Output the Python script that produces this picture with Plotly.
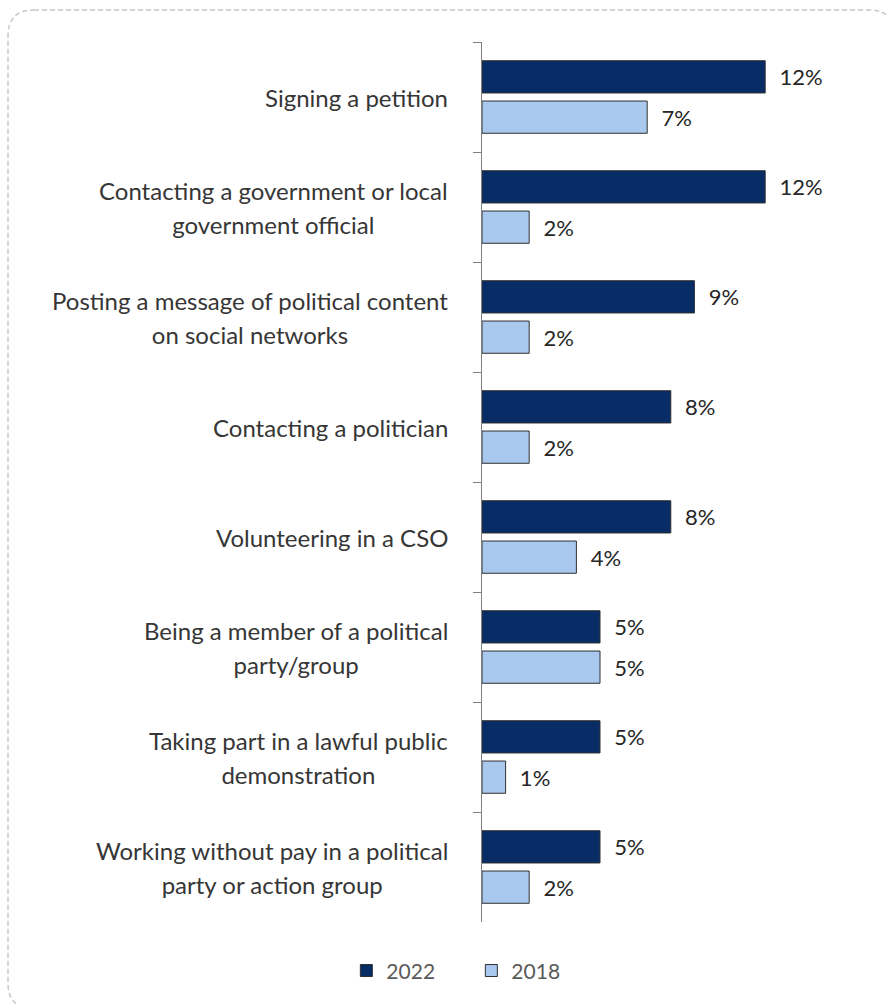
import plotly.graph_objects as go

# Forms of political participation, share of respondents (%)
categories = [
    "Signing a petition",
    "Contacting a government or local<br>government official",
    "Posting a message of political content<br>on social networks",
    "Contacting a politician",
    "Volunteering in a CSO",
    "Being a member of a political<br>party/group",
    "Taking part in a lawful public<br>demonstration",
    "Working without pay in a political<br>party or action group",
]
values_2022 = [12, 12, 9, 8, 8, 5, 5, 5]
values_2018 = [7, 2, 2, 2, 4, 5, 1, 2]
series_names = ["2022", "2018"]

FONT = "Lato"
W, H = 886, 1004
M_L, M_R, M_T, M_B = 482, 50, 42, 82
PLOT_W = W - M_L - M_R
PLOT_H = H - M_T - M_B

fig = go.Figure()
for name, vals, color in [
    (series_names[0], values_2022, "#072c66"),
    (series_names[1], values_2018, "#a9c8ed"),
]:
    fig.add_trace(go.Bar(
        y=categories,
        x=vals,
        name=name,
        orientation="h",
        marker=dict(color=color, line=dict(color="#303030", width=1)),
        texttemplate="\u00a0\u00a0%{x}%",
        textposition="outside",
        textfont=dict(family=FONT, size=22, color="#262626"),
        cliponaxis=False,
    ))

# Category labels: centred multi-line blocks, right edge near the axis
for cat in categories:
    lines = cat.split("<br>")
    txt = "<br>".join(f"<span style='font-size:24px'>{ln}</span>" for ln in lines)
    fig.add_annotation(
        x=0, xref="paper", xanchor="right", xshift=-32,
        y=cat, yref="y", yanchor="middle",
        text=txt, showarrow=False, align="center",
        font=dict(family=FONT, size=26, color="#363636"),
    )


def px_to_paper(px, py):
    return (px - M_L) / PLOT_W, (H - M_B - py) / PLOT_H


def rounded_rect(x0, y0, x1, y1, r):
    pts = []

    def P(x, y):
        a, b = px_to_paper(x, y)
        return f"{a:.5f},{b:.5f}"

    pts.append(f"M {P(x0 + r, y0)}")
    pts.append(f"L {P(x1 - r, y0)}")
    pts.append(f"Q {P(x1, y0)} {P(x1, y0 + r)}")
    pts.append(f"L {P(x1, y1 - r)}")
    pts.append(f"Q {P(x1, y1)} {P(x1 - r, y1)}")
    pts.append(f"L {P(x0 + r, y1)}")
    pts.append(f"Q {P(x0, y1)} {P(x0, y1 - r)}")
    pts.append(f"L {P(x0, y0 + r)}")
    pts.append(f"Q {P(x0, y0)} {P(x0 + r, y0)}")
    pts.append("Z")
    return " ".join(pts)


fig.add_shape(
    type="path", xref="paper", yref="paper",
    path=rounded_rect(8, 10, 895, 1009, 26),
    line=dict(color="#c8c8c8", width=1.5, dash="5px,3px"),
    layer="below",
)

fig.update_layout(
    width=W, height=H,
    margin=dict(l=M_L, r=M_R, t=M_T, b=M_B),
    paper_bgcolor="white", plot_bgcolor="white",
    barmode="group", bargap=0.267, bargroupgap=0.2,
    showlegend=True,
    legend=dict(
        orientation="h", traceorder="normal",
        xref="container", yref="container",
        x=0.532, xanchor="center", y=0.033, yanchor="middle",
        font=dict(family=FONT, size=21, color="#5a5a5a"),
        entrywidth=80,
    ),
    font=dict(family=FONT),
)
fig.update_xaxes(range=[0, 15], visible=False, showgrid=False, zeroline=False)
fig.update_yaxes(
    type="category", autorange="reversed",
    showline=True, linecolor="#808080", linewidth=1,
    ticks="outside", tickson="boundaries", ticklen=8, tickcolor="#808080",
    showticklabels=False, showgrid=False,
)

fig.write_html("out.html")
